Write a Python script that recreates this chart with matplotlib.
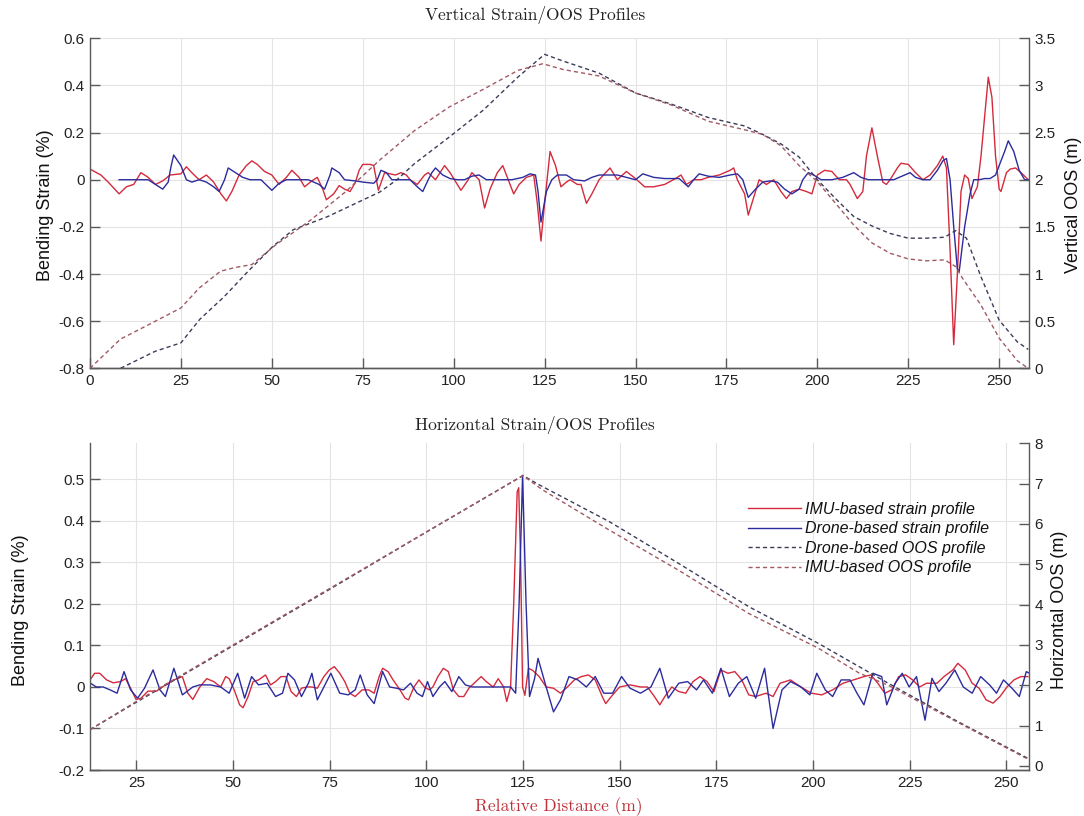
import matplotlib
matplotlib.use("Agg")
import matplotlib.pyplot as plt
from matplotlib.ticker import FuncFormatter
from matplotlib.lines import Line2D

plt.rcParams['font.family'] = ['Liberation Sans', 'DejaVu Sans']
plt.rcParams['axes.unicode_minus'] = False

# ---------------- data: vertical (top) ----------------
v_imu_strain_x = [0, 3, 5, 8, 10, 12, 14, 16, 18, 20, 22, 25, 26.5, 28, 30, 32, 34, 36, 37.5, 39, 41, 43, 44.5, 46, 48, 50,
                  52, 54, 55.5, 57.5, 59, 61, 62.5, 64, 65, 67, 68.5, 70, 71.5, 73, 74, 75, 77, 78, 79.3, 81, 84, 85.5, 87,
                  88, 90, 92, 93, 95, 97.5, 99, 101, 102, 104, 105, 107, 108.5, 110, 112, 113.5, 115, 116.5, 118, 120,
                  122, 123, 124, 125, 126.5, 128, 129.5, 131, 132, 134, 135, 136.5, 138, 140, 143, 145, 147.5, 150,
                  152.5, 155, 158, 161, 162.5, 164, 166, 168, 170, 173, 176, 177, 178, 180, 181, 183, 184, 186, 188, 190,
                  191.5, 193, 195, 197, 198.5, 200, 202, 204, 206, 208, 209, 211, 212.5, 213.5, 215, 216.5, 218, 219,
                  220, 222, 223, 225, 227, 229, 231, 233, 234.5, 235.5, 236.5, 237.5, 238.5, 239.5, 240.5, 241.5, 242.5,
                  244, 245, 246.5, 247, 248, 249, 250, 250.5, 252, 253, 254.5, 256, 258]
v_imu_strain_y = [0.045, 0.02, -0.01, -0.06, -0.03, -0.02, 0.03, 0.01, -0.02, -0.005, 0.02, 0.025, 0.055, 0.03, 0.0,
                  0.02, -0.01, -0.06, -0.09, -0.05, 0.02, 0.06, 0.08, 0.065, 0.035, 0.02, -0.02, 0.01, 0.04, 0.01,
                  -0.03, -0.005, 0.01, -0.04, -0.085, -0.06, -0.025, -0.04, -0.05, -0.01, 0.04, 0.065, 0.065, 0.06,
                  -0.045, 0.03, 0.02, 0.03, 0.02, 0.0, -0.02, 0.02, 0.03, 0.0, 0.06, 0.03, -0.02, -0.045, 0.0, 0.03,
                  0.0, -0.12, -0.04, 0.03, 0.06, 0.0, -0.06, -0.02, 0.01, 0.02, -0.1, -0.26, -0.1, 0.12, 0.06, -0.03,
                  -0.01, 0.0, -0.02, -0.02, -0.1, -0.06, 0.0, 0.05, 0.0, 0.035, 0.005, -0.03, -0.03, -0.02, 0.005,
                  0.02, -0.02, 0.0, 0.0, 0.01, 0.02, 0.04, 0.05, 0.0, -0.06, -0.15, -0.05, 0.0, -0.02, 0.0, -0.05,
                  -0.08, -0.05, -0.04, -0.05, -0.06, 0.02, 0.04, 0.035, 0.0, 0.0, -0.02, -0.08, -0.05, 0.1, 0.22, 0.1,
                  -0.01, -0.02, 0.0, 0.05, 0.07, 0.065, 0.03, 0.0, 0.02, 0.06, 0.1, 0.05, -0.3, -0.7, -0.4, -0.05,
                  0.02, 0.005, -0.08, -0.03, 0.1, 0.35, 0.435, 0.35, 0.1, -0.04, -0.05, 0.03, 0.045, 0.05, 0.03, 0.0]

v_drone_strain_x = [8, 10, 13, 16, 18, 20, 21.5, 22.2, 23, 25, 26.5, 28, 30, 32, 34, 35.5, 37, 38, 40, 42, 44, 47, 49,
                    50, 52, 54, 57, 60, 63, 64.5, 66, 66.5, 68.5, 70, 73, 75, 78, 79, 80, 81.5, 83, 86, 88, 90, 91.5,
                    93, 94, 95, 97, 99, 101, 103, 105, 107, 109, 112, 116, 119, 121, 122.5, 123.2, 124, 125.5, 127,
                    128.5, 131, 133, 136, 138, 140, 145, 150, 152, 155, 158, 162, 164.5, 166, 167.5, 170, 173, 176,
                    178, 179.5, 181, 183, 185, 187, 189, 191, 193, 195, 196, 197.5, 199, 201, 204, 207, 210, 212, 214,
                    218, 221, 224, 225.5, 227, 229, 231, 233, 234.5, 235.5, 236.5, 237.5, 238.5, 239, 240.5, 242, 243,
                    244.5, 246, 247.5, 249, 250, 251.5, 252.5, 254, 255.5, 257, 258]
v_drone_strain_y = [0.0, 0.0, 0.0, 0.0, -0.02, -0.04, -0.01, 0.05, 0.105, 0.06, 0.0, -0.01, 0.0, -0.01, -0.03, -0.05,
                    0.0, 0.05, 0.03, 0.01, 0.0, 0.0, -0.03, -0.045, -0.015, 0.0, 0.0, 0.0, -0.02, -0.04, 0.02, 0.05,
                    0.03, 0.0, -0.005, -0.01, -0.015, 0.0, 0.04, 0.03, 0.0, 0.0, 0.0, -0.03, -0.05, 0.0, 0.03, 0.05,
                    0.02, 0.005, 0.0, 0.0, 0.015, 0.02, 0.0, 0.0, 0.0, 0.01, 0.025, 0.02, -0.05, -0.18, -0.05, 0.0,
                    0.02, 0.02, 0.0, -0.005, 0.01, 0.02, 0.02, 0.0, 0.025, 0.01, 0.005, 0.005, -0.03, 0.0, 0.025,
                    0.015, 0.01, 0.02, 0.025, 0.0, -0.075, -0.04, -0.01, -0.005, -0.01, -0.04, -0.06, -0.04, 0.0,
                    0.03, 0.02, 0.0, 0.0, 0.01, 0.03, 0.01, 0.0, 0.0, 0.0, 0.02, 0.03, 0.01, 0.0, 0.0, 0.04, 0.08,
                    0.09, 0.0, -0.2, -0.38, -0.39, -0.2, -0.06, 0.0, 0.0, 0.005, 0.005, 0.02, 0.06, 0.12, 0.165, 0.12,
                    0.04, 0.0, 0.0]

v_drone_oos_x = [8.4, 17.9, 25, 30.2, 36.9, 43.5, 50.2, 55.9, 65.4, 79.7, 84.4, 89.2, 98.7, 108.2, 117.7, 125, 130,
                 140, 150, 160, 170, 180, 185, 190, 195, 200, 205, 210, 215, 220, 225, 230, 235, 238, 241, 245, 250,
                 255, 258]
v_drone_oos_y = [0.0, 0.18, 0.27, 0.52, 0.76, 1.03, 1.29, 1.47, 1.61, 1.87, 2.0, 2.17, 2.45, 2.74, 3.09, 3.33, 3.26,
                 3.13, 2.92, 2.80, 2.66, 2.57, 2.48, 2.38, 2.24, 2.0, 1.80, 1.61, 1.51, 1.43, 1.38, 1.38, 1.39, 1.46,
                 1.38, 0.97, 0.51, 0.28, 0.2]

v_imu_oos_x = [0, 8.4, 17, 25, 30, 35.9, 40, 44.5, 51.1, 60.6, 70.2, 79.7, 89.2, 98.7, 108.2, 117.7, 124.5, 130, 140,
               150, 160, 170, 180, 185, 190, 195, 200, 205, 210, 215, 220, 225, 230, 235, 238, 240, 245, 250, 255, 258]
v_imu_oos_y = [0.0, 0.31, 0.48, 0.64, 0.85, 1.03, 1.07, 1.10, 1.31, 1.57, 1.87, 2.21, 2.52, 2.77, 2.96, 3.16, 3.23,
               3.17, 3.1, 2.92, 2.79, 2.62, 2.53, 2.48, 2.36, 2.15, 1.98, 1.75, 1.52, 1.33, 1.22, 1.16, 1.14, 1.15,
               1.08, 0.95, 0.67, 0.32, 0.08, 0.0]

# ---------------- data: horizontal (bottom) ----------------
h_imu_strain_x = [13, 14.2, 15.5, 17.3, 19, 20.9, 22.2, 23.5, 24.9, 26.2, 28, 30.2, 32.5, 34.7, 36.9, 38.3, 39.6, 41.4,
                  43.2, 45, 46.8, 48.1, 49, 50.3, 51.7, 52.6, 53.9, 55.2, 56.6, 58.4, 59.7, 61, 62.4, 63.7, 65, 66.4,
                  67.7, 69.1, 70.4, 71.8, 73.5, 74.9, 76.2, 77.6, 78.9, 80.2, 81.6, 83.4, 85.1, 86.5, 87.8, 88.7, 90.1,
                  91.4, 93.2, 94.5, 95.4, 96.8, 98.1, 99.5, 100.8, 101.7, 103, 104.4, 105.7, 107, 108.4, 109.7, 111,
                  112.8, 114.2, 115.5, 117.3, 118.6, 120, 120.8, 121.8, 122.6, 123.5, 123.9, 124.4, 124.9, 125.5, 126.4,
                  127.5, 129.2, 131, 132.9, 134.7, 136.5, 138.3, 140.1, 141.9, 143.7, 145.5, 146.4, 148.2, 150, 152.7,
                  155.4, 157.2, 159, 160.4, 161.7, 163.5, 165.3, 167.1, 169, 170.8, 172.6, 174.4, 176.2, 178, 179.8,
                  181.6, 183.4, 185.2, 187.9, 189.7, 191.5, 194.2, 196.9, 199.6, 202.3, 205.1, 207.8, 210.5, 213.2, 215,
                  216.8, 218.6, 220.4, 222.2, 224, 225.8, 227.6, 229.4, 232.1, 233.9, 236.2, 237.5, 239.4, 241.2, 243,
                  244.8, 246.6, 248.4, 250.2, 252, 253.8, 255.6]
h_imu_strain_y = [0.017, 0.033, 0.033, 0.017, 0.01, 0.013, 0.02, -0.003, -0.03, -0.027, -0.01, -0.01, 0.005, 0.017,
                  0.025, -0.015, -0.03, 0.0, 0.02, 0.013, 0.0, 0.025, 0.02, -0.007, -0.043, -0.05, -0.023, 0.013,
                  0.017, 0.029, 0.005, 0.013, 0.025, 0.025, -0.011, -0.023, -0.003, 0.0, 0.0, -0.003, 0.025, 0.041,
                  0.049, 0.033, 0.013, -0.015, -0.023, -0.007, -0.007, -0.015, 0.025, 0.045, 0.037, 0.017, -0.007,
                  -0.027, -0.031, 0.0, 0.017, 0.0, -0.007, 0.0, 0.025, 0.045, 0.037, -0.007, -0.023, -0.023, -0.003,
                  0.013, 0.025, 0.013, 0.0, 0.02, 0.0, -0.035, 0.0, 0.2, 0.47, 0.48, 0.3, 0.0, -0.02, 0.045, 0.04,
                  0.025, 0.0, -0.003, -0.015, 0.0, 0.017, 0.025, 0.029, 0.017, -0.023, -0.04, -0.019, 0.0, 0.005, 0.0,
                  0.0, -0.023, -0.043, -0.023, 0.0, -0.011, -0.015, 0.013, 0.025, 0.013, -0.011, 0.041, 0.033, 0.037,
                  0.017, -0.019, -0.023, -0.015, -0.023, 0.009, 0.017, 0.0, -0.015, -0.019, -0.007, 0.009, 0.017,
                  0.025, 0.029, 0.009, -0.015, -0.007, 0.025, 0.029, 0.017, 0.0, 0.009, 0.009, 0.025, 0.041, 0.057,
                  0.041, 0.009, -0.003, -0.031, -0.039, -0.023, 0.0, 0.017, 0.025, 0.025]

h_drone_strain_x = [13, 14.6, 16.4, 18.2, 20, 21.8, 23.5, 25.3, 27.1, 29.3, 31.1, 32.5, 34.7, 36.9, 39.6, 41.4, 44.1,
                    46.8, 49, 51.2, 53, 54.8, 56.6, 58.8, 61, 62.8, 64.2, 65.9, 67.7, 69.5, 70.4, 71.8, 73.5, 75.3,
                    77.6, 79.8, 81.6, 82.9, 84.7, 86.5, 88.7, 90.5, 92.3, 94.1, 95.9, 97.6, 99, 100.3, 101.7, 103.4,
                    104.8, 106.6, 108.4, 110.1, 111.9, 114.6, 118.2, 121.8, 123.1, 124, 124.9, 125.8, 126.7, 128,
                    128.9, 131, 132.9, 134.7, 136.9, 139.2, 141.4, 143.7, 145.9, 148.2, 150.5, 152.7, 155.4, 158.1,
                    160.4, 162.6, 165.3, 167.6, 169.9, 171.7, 174, 176.2, 178.4, 180.7, 182.9, 185.2, 187.5, 189.7,
                    192, 194.2, 196.9, 199.2, 201, 203.2, 205.1, 207.3, 209.6, 211.4, 213.2, 215.5, 217.8, 219.1,
                    221.3, 223.1, 224.9, 226.8, 229, 230.8, 232.6, 234.4, 236.7, 238.9, 241.2, 243.4, 245.7, 247.5,
                    249.3, 251.5, 253.4, 255.2, 256]
h_drone_strain_y = [0.01, 0.0, 0.0, -0.007, -0.015, 0.037, -0.007, -0.027, -0.003, 0.041, -0.007, -0.023, 0.045,
                    -0.019, 0.0, 0.005, 0.005, 0.0, -0.015, 0.033, -0.027, 0.025, 0.005, 0.009, -0.023, -0.015, 0.033,
                    0.017, -0.023, 0.009, 0.033, -0.031, 0.0, 0.033, -0.015, -0.019, -0.007, 0.029, -0.019, -0.04,
                    0.037, 0.0, -0.003, -0.007, 0.009, -0.015, -0.023, 0.013, -0.023, 0.0, 0.013, -0.011, 0.025, 0.005,
                    0.0, 0.0, 0.0, 0.0, -0.015, 0.2, 0.51, 0.2, -0.023, 0.02, 0.069, 0.0, -0.06, -0.031, 0.025, 0.017,
                    0.0, 0.025, -0.015, -0.015, 0.025, -0.003, -0.015, 0.0, 0.045, -0.027, 0.009, 0.013, -0.007, 0.017,
                    -0.015, 0.045, -0.023, 0.009, 0.025, -0.027, 0.045, -0.1, -0.007, 0.013, 0.0, -0.019, 0.033,
                    -0.007, -0.023, 0.017, 0.017, -0.015, -0.043, 0.033, 0.025, -0.043, 0.009, 0.033, 0.0, 0.025,
                    -0.08, 0.021, -0.011, 0.009, 0.041, 0.0, -0.015, 0.025, 0.005, -0.015, 0.017, -0.003, -0.023,
                    0.037, 0.033]

h_drone_oos_x = [13, 25, 50, 75, 100, 125, 129.2, 147.3, 165.3, 183.4, 201.4, 219.5, 237.5, 255.6]
h_drone_oos_y = [0.9, 1.58, 2.98, 4.38, 5.8, 7.2, 6.97, 6.06, 5.02, 3.95, 3.04, 2.05, 1.1, 0.19]
h_imu_oos_x = [13, 25, 50, 75, 100, 125, 130, 147.3, 165.3, 183.4, 201.4, 212, 219.5, 237.5, 255.6]
h_imu_oos_y = [0.9, 1.6, 3.0, 4.4, 5.8, 7.2, 6.85, 5.85, 4.85, 3.78, 2.92, 2.3, 2.0, 1.08, 0.17]

legend_labels = ['IMU-based strain profile', 'Drone-based strain profile',
                 'Drone-based OOS profile', 'IMU-based OOS profile']

# ---------------- styles ----------------
RED = '#d42a3c'
BLUE = '#2b2b9e'
DRONE_DASH = '#3c3c5a'
IMU_DASH = '#a05a64'
DASH = (0, (3.0, 2.2))
AXC = '#5a5a5a'
W, H = 1084, 816

fmt = FuncFormatter(lambda v, p: f'{round(v, 6):g}')

fig = plt.figure(figsize=(W / 100, H / 100), dpi=100)


def box(l, t, r, b):
    return [l / W, 1 - b / H, (r - l) / W, (b - t) / H]


def style(ax, axr):
    for a in (ax, axr):
        a.spines['top'].set_visible(False)
        for s in ('left', 'right', 'bottom'):
            a.spines[s].set_color(AXC)
            a.spines[s].set_linewidth(1.0)
        a.tick_params(direction='in', length=7, width=1.0, color=AXC, labelsize=11,
                      labelcolor='#222222', pad=4)
    axr.spines['left'].set_visible(False)
    ax.spines['right'].set_visible(False)
    ax.grid(True, color='#e4e4e4', linewidth=0.8)
    ax.set_axisbelow(True)
    ax.yaxis.set_major_formatter(fmt)
    axr.yaxis.set_major_formatter(fmt)
    ax.xaxis.set_major_formatter(fmt)


# ---------- top ----------
ax1 = fig.add_axes(box(90, 38.3, 1029, 368.3))
ax1r = ax1.twinx()
ax1.plot(v_imu_strain_x, v_imu_strain_y, color=RED, lw=1.0)
ax1.plot(v_drone_strain_x, v_drone_strain_y, color=BLUE, lw=1.0)
ax1r.plot(v_drone_oos_x, v_drone_oos_y, color=DRONE_DASH, lw=1.0, ls=DASH)
ax1r.plot(v_imu_oos_x, v_imu_oos_y, color=IMU_DASH, lw=1.0, ls=DASH)
ax1.set_xlim(0, 258.2)
ax1.set_ylim(-0.8, 0.6)
ax1r.set_ylim(0, 3.5)
ax1.set_xticks([0, 25, 50, 75, 100, 125, 150, 175, 200, 225, 250])
ax1.set_yticks([-0.8, -0.6, -0.4, -0.2, 0, 0.2, 0.4, 0.6])
ax1r.set_yticks([0, 0.5, 1, 1.5, 2, 2.5, 3, 3.5])
style(ax1, ax1r)

# ---------- bottom ----------
ax2 = fig.add_axes(box(90, 443.3, 1029, 770))
ax2r = ax2.twinx()
ax2.plot(h_imu_strain_x, h_imu_strain_y, color=RED, lw=1.0)
ax2.plot(h_drone_strain_x, h_drone_strain_y, color=BLUE, lw=1.0)
ax2r.plot(h_drone_oos_x, h_drone_oos_y, color=DRONE_DASH, lw=1.0, ls=DASH)
ax2r.plot(h_imu_oos_x, h_imu_oos_y, color=IMU_DASH, lw=1.0, ls=DASH)
ax2.set_xlim(13, 255.9)
ax2.set_ylim(-0.2, 0.587)
ax2r.set_ylim(-0.1, 8.0)
ax2.set_xticks([25, 50, 75, 100, 125, 150, 175, 200, 225, 250])
ax2.set_yticks([-0.2, -0.1, 0, 0.1, 0.2, 0.3, 0.4, 0.5])
ax2r.set_yticks([0, 1, 2, 3, 4, 5, 6, 7, 8])
style(ax2, ax2r)

handles = [Line2D([], [], color=RED, lw=1.0), Line2D([], [], color=BLUE, lw=1.0),
           Line2D([], [], color=DRONE_DASH, lw=1.0, ls=DASH), Line2D([], [], color=IMU_DASH, lw=1.0, ls=DASH)]
leg = ax2r.legend(handles, legend_labels, loc='upper left', bbox_to_anchor=(740 / W, 1 - 494 / H),
                  bbox_transform=fig.transFigure, frameon=False, handlelength=3.3, handletextpad=0.3,
                  labelspacing=0.28, borderpad=0.0,
                  prop={'family': 'Liberation Sans', 'style': 'italic', 'size': 11.5})
for t in leg.get_texts():
    t.set_color('#111111')

# ---------- text ----------
SERIF = 'cmr10'
fig.text(535 / W, 1 - 15.5 / H, 'Vertical Strain/OOS Profiles', ha='center', va='center',
         family=SERIF, size=12.5, color='#222222')
fig.text(535 / W, 1 - 425 / H, 'Horizontal Strain/OOS Profiles', ha='center', va='center',
         family=SERIF, size=12.5, color='#222222')
fig.text(559 / W, 1 - 807 / H, 'Relative Distance (m)', ha='center', va='center',
         family=SERIF, size=12.5, color='#c0303a')

fig.text(45.5 / W, 1 - 205 / H, 'Bending Strain (%)', rotation=90, ha='center', va='center', size=13,
         color='#111111')
fig.text(20.7 / W, 1 - 610 / H, 'Bending Strain (%)', rotation=90, ha='center', va='center', size=13,
         color='#111111')
fig.text(1073 / W, 1 - 205 / H, 'Vertical OOS (m)', rotation=90, ha='center', va='center', size=13,
         color='#111111')
fig.text(1059 / W, 1 - 610 / H, 'Horizontal OOS (m)', rotation=90, ha='center', va='center', size=13,
         color='#111111')

fig.savefig('out.png', dpi=100)
